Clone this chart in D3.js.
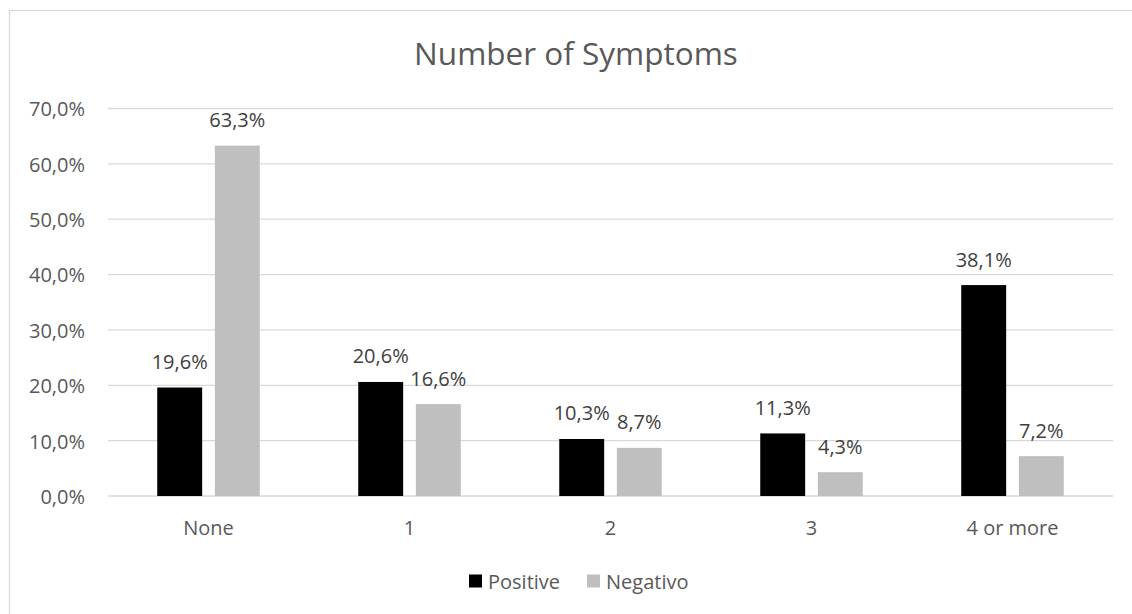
<!DOCTYPE html>
<html>
<head>
<meta charset="utf-8">
<script src="https://cdn.jsdelivr.net/npm/d3@7"></script>
<style>
  html, body { margin: 0; padding: 0; background: #fff; }
  svg { display: block; font-family: 'Open Sans', 'Noto Sans', sans-serif; }
</style>
</head>
<body>
<div id="chart"></div>
<script>
// ── DATA ─────────────────────────────────────
const categories = ['None', '1', '2', '3', '4 or more'];
const seriesNames = ['Positive', 'Negativo'];
const positive = [19.6, 20.6, 10.3, 11.3, 38.1];
const negativo = [63.3, 16.6, 8.7, 4.3, 7.2];
const yTicks = [0, 10, 20, 30, 40, 50, 60, 70];

const COLORS = { Positive: '#000000', Negativo: '#bfbfbf' };

// ── LAYOUT ───────────────────────────────────
const W = 1132, H = 614;
const M = { t: 108.5, r: 19, b: 118, l: 108 };
const w = W - M.l - M.r;
const h = H - M.t - M.b;

const fmt = v => v.toFixed(1).replace('.', ',') + '%';

const svg = d3.select('#chart').append('svg')
  .attr('width', W)
  .attr('height', H);

// chart frame (cut at right / bottom like the source)
svg.append('rect')
  .attr('x', 9.5).attr('y', 10.5)
  .attr('width', W).attr('height', H)
  .attr('fill', 'none')
  .attr('stroke', '#d9d9d9')
  .attr('stroke-width', 1.3);

svg.append('text')
  .attr('x', 576).attr('y', 65)
  .attr('text-anchor', 'middle')
  .attr('font-size', 31.5)
  .attr('fill', '#595959')
  .text('Number of Symptoms');

const g = svg.append('g').attr('transform', `translate(${M.l},${M.t})`);

// ── scales
const x0 = d3.scaleBand().domain(categories).range([0, w]);
const x1 = d3.scaleBand().domain(seriesNames)
  .range([x0.bandwidth() * 0.245, x0.bandwidth() * 0.755])
  .paddingInner(0.22);
const y = d3.scaleLinear().domain([0, 70]).range([h, 0]);

// ── grid
g.append('g')
  .selectAll('line')
  .data(yTicks)
  .join('line')
  .attr('x1', 0).attr('x2', w)
  .attr('y1', d => y(d)).attr('y2', d => y(d))
  .attr('stroke', '#d9d9d9')
  .attr('stroke-width', 1.3);

// ── y axis labels
const yAxis = g.append('g')
  .call(d3.axisLeft(y).tickValues(yTicks).tickFormat(fmt).tickSize(0).tickPadding(23))
  .attr('font-family', null)
  .attr('font-size', null);
yAxis.select('.domain').remove();
yAxis.selectAll('text')
  .attr('dy', '0.37em')
  .attr('font-size', 20)
  .attr('fill', '#595959');

// ── x axis labels
const xAxis = g.append('g')
  .attr('transform', `translate(0,${h})`)
  .call(d3.axisBottom(x0).tickSize(0).tickPadding(0))
  .attr('font-family', null)
  .attr('font-size', null);
xAxis.select('.domain').remove();
xAxis.selectAll('text')
  .attr('y', 39)
  .attr('dy', 0)
  .attr('font-size', 20)
  .attr('fill', '#595959');

// ── bars
const rows = categories.map((c, i) => ({
  cat: c,
  vals: [
    { key: 'Positive', v: positive[i] },
    { key: 'Negativo', v: negativo[i] }
  ]
}));

const grp = g.selectAll('.grp')
  .data(rows)
  .join('g')
  .attr('transform', d => `translate(${x0(d.cat)},0)`);

grp.selectAll('rect')
  .data(d => d.vals)
  .join('rect')
  .attr('x', d => x1(d.key))
  .attr('width', x1.bandwidth())
  .attr('y', d => y(d.v))
  .attr('height', d => h - y(d.v))
  .attr('fill', d => COLORS[d.key]);

grp.selectAll('text')
  .data(d => d.vals)
  .join('text')
  .attr('x', d => x1(d.key) + x1.bandwidth() / 2)
  .attr('y', d => y(d.v) - 18.5)
  .attr('text-anchor', 'middle')
  .attr('font-size', 20)
  .attr('fill', '#404040')
  .text(d => fmt(d.v));

// ── legend
const leg = svg.append('g').attr('transform', 'translate(469,574.5)');
const items = leg.selectAll('g')
  .data(seriesNames)
  .join('g')
  .attr('transform', (d, i) => `translate(${i * 118},0)`);
items.append('rect')
  .attr('width', 13).attr('height', 13)
  .attr('fill', d => COLORS[d]);
items.append('text')
  .attr('x', 19).attr('y', 14)
  .attr('font-size', 20)
  .attr('fill', '#595959')
  .text(d => d);
</script>
</body>
</html>
